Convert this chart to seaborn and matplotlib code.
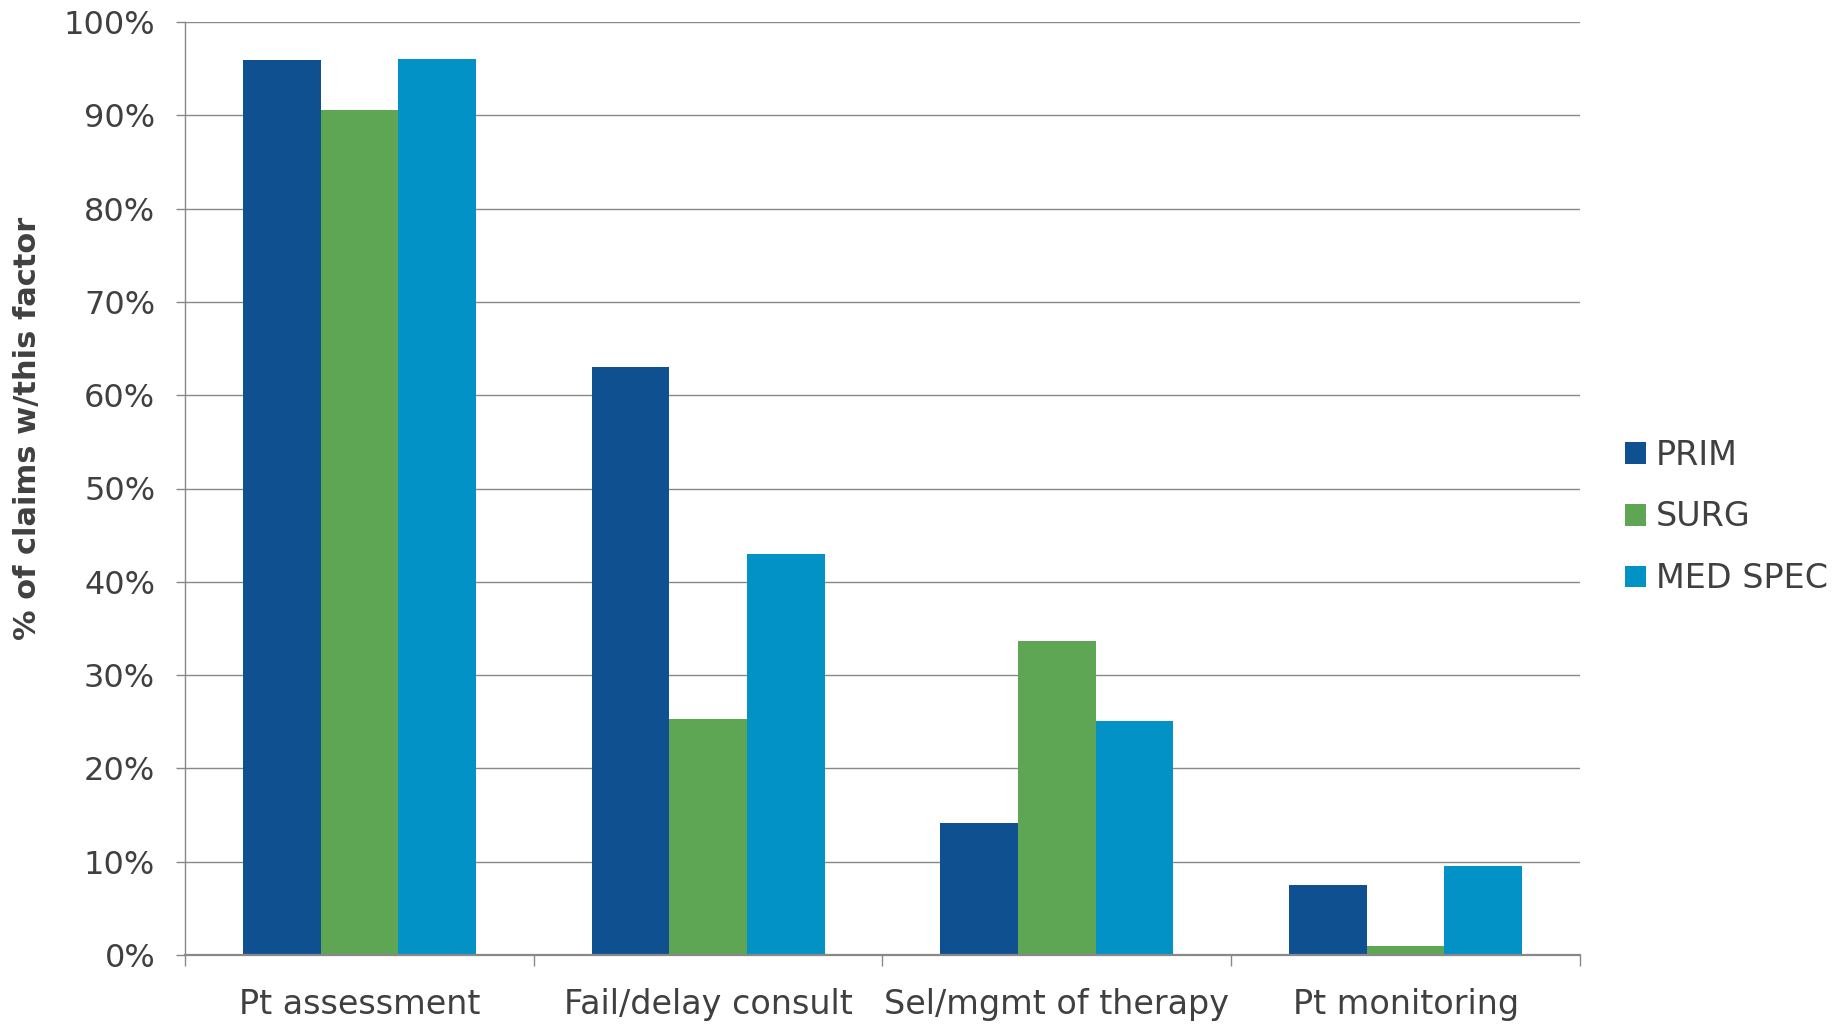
import matplotlib
matplotlib.use("Agg")
import matplotlib.pyplot as plt
import matplotlib.ticker as mticker
import seaborn as sns
import pandas as pd

# Contributing factors and share of claims per specialty group (%)
categories = ["Pt assessment", "Fail/delay consult", "Sel/mgmt of therapy", "Pt monitoring"]
series = ["PRIM", "SURG", "MED SPEC"]
prim = [95.9, 63.0, 14.2, 7.5]
surg = [90.6, 25.3, 33.7, 1.0]
med_spec = [96.0, 43.0, 25.1, 9.5]
y_ticks = [0, 10, 20, 30, 40, 50, 60, 70, 80, 90, 100]

colors = ["#0F5190", "#5EA654", "#0292C6"]
text_color = "#404040"
line_color = "#888888"

rows = []
for name, vals in zip(series, [prim, surg, med_spec]):
    for cat, v in zip(categories, vals):
        rows.append({"factor": cat, "group": name, "pct": v})
df = pd.DataFrame(rows)

sns.set_theme(style="white")
plt.rcParams["font.family"] = ["DejaVu Sans"]

fig = plt.figure(figsize=(18.4, 10.25), dpi=100)
ax = fig.add_axes([185 / 1840, 1 - 955 / 1025, (1580 - 185) / 1840, (955 - 22) / 1025])

sns.barplot(data=df, x="factor", y="pct", hue="group", order=categories,
            hue_order=series, palette=colors, saturation=1, width=0.668,
            linewidth=0, errorbar=None, ax=ax)

ax.set_xlim(-0.5, len(categories) - 0.5)
ax.set_ylim(0, 100)
ax.set_yticks(y_ticks)
ax.yaxis.set_major_formatter(mticker.FuncFormatter(lambda v, p: f"{v:.0f}%"))
ax.yaxis.grid(True, color=line_color, linewidth=1.0)
ax.set_axisbelow(True)

for side in ["top", "right"]:
    ax.spines[side].set_visible(False)
ax.spines["left"].set_color(line_color)
ax.spines["left"].set_linewidth(1.0)
ax.spines["bottom"].set_color(line_color)
ax.spines["bottom"].set_linewidth(1.6)

ax.tick_params(axis="y", which="major", direction="out", length=6.5, width=1.0,
               color=line_color, pad=15, labelsize=23, labelcolor=text_color, left=True)
ax.tick_params(axis="x", which="major", length=0, pad=24, labelsize=24,
               labelcolor=text_color)
ax.set_xticks(range(len(categories)), categories)
ax.set_xticks([i - 0.5 for i in range(len(categories) + 1)], minor=True)
ax.tick_params(axis="x", which="minor", direction="out", length=8, width=1.0,
               color=line_color, bottom=True)

ax.set_xlabel("")
ax.set_ylabel("")
fig.text(28 / 1840, 1 - 428 / 1025, "% of claims w/this factor", rotation=90,
         ha="center", va="center", fontsize=22, fontweight="bold", color=text_color)

handles, labels = ax.get_legend_handles_labels()
ax.get_legend().remove()
fig.legend(handles, labels, loc="center left",
           bbox_to_anchor=(1625 / 1840, 1 - 517 / 1025), bbox_transform=fig.transFigure,
           frameon=False, fontsize=24, labelcolor=text_color, borderpad=0,
           borderaxespad=0, handlelength=0.62, handleheight=0.62,
           handletextpad=0.3, labelspacing=0.86)

fig.savefig("out.png", dpi=100, facecolor="white")
